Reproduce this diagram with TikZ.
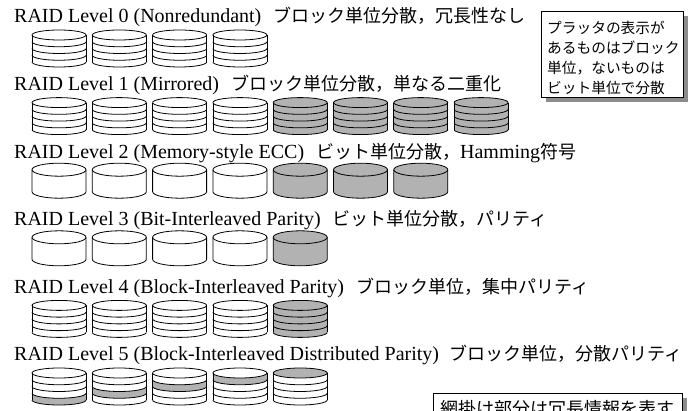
\documentclass[tikz,border=0pt]{standalone}
\usepackage{fontspec}
\setmainfont{Liberation Serif}
\newfontfamily\jp{Noto Sans CJK JP}
\usetikzlibrary{shadows}

\tikzset{
  diskline/.style={line width=0.8pt, line join=round},
  diskgray/.style={fill=black!30},
  rowtitle/.style={anchor=base west, inner sep=0pt, font=\fontsize{20}{24}\selectfont},
  notebox/.style={draw, line width=0.8pt, fill=white, anchor=north west,
    general shadow={fill=black!45, shadow xshift=4.5pt, shadow yshift=-4.5pt}},
}

% stack of platters at top-left (#1,#2); #3 = shaded bands (0 = top face, 1..4 = side bands, -1 = none)
\newcommand\platterstack[3]{%
  \begin{scope}[shift={(#1,#2)}]
    \foreach \k in {#3}{%
      \ifnum\k<0\relax\else
        \ifnum\k=0\relax
          \fill[diskgray] (27,5) ellipse [x radius=27pt, y radius=5pt];
        \else
          \fill[diskgray] (0,{5+(\k-1)*6.75}) arc[start angle=180, end angle=360, x radius=27pt, y radius=5pt]
            -- (54,{5+\k*6.75}) arc[start angle=360, end angle=180, x radius=27pt, y radius=5pt] -- cycle;
        \fi
      \fi}
    \draw[diskline] (27,5) ellipse [x radius=27pt, y radius=5pt];
    \draw[diskline] (0,5) -- (0,32) (54,5) -- (54,32);
    \foreach \k in {1,...,4}
      {\draw[diskline] (0,{5+\k*6.75}) arc[start angle=180, end angle=360, x radius=27pt, y radius=5pt];}
  \end{scope}}

% single cylinder at top-left (#1,#2) filled with #3
\newcommand\cylinder[3]{%
  \begin{scope}[shift={(#1,#2)}]
    \draw[diskline, fill=#3] (0,6.5) -- (0,28.5)
      arc[start angle=180, end angle=360, x radius=27pt, y radius=6.5pt] -- (54,6.5)
      arc[start angle=0, end angle=180, x radius=27pt, y radius=6.5pt] -- cycle;
    \draw[diskline] (0,6.5) arc[start angle=180, end angle=360, x radius=27pt, y radius=6.5pt];
  \end{scope}}

\begin{document}
\begin{tikzpicture}[x=1pt, y=-1pt]
\useasboundingbox (0,0) rectangle (688,411);

\def\jpsize{\jp\fontsize{18}{21}\selectfont}

% titles
\node[rowtitle] (row0) at (14,23) {RAID Level 0 (Nonredundant)\hspace{12pt}{\jpsize ブロック単位分散，冗長性なし}};
\node[rowtitle] (row1) at (14,90.6) {RAID Level 1 (Mirrored)\hspace{12pt}{\jpsize ブロック単位分散，単なる二重化}};
\node[rowtitle] (row2) at (14,158.2) {RAID Level 2 (Memory-style ECC)\hspace{12pt}{\jpsize ビット単位分散，}Hamming{\jpsize 符号}};
\node[rowtitle] (row3) at (14,225.8) {RAID Level 3 (Bit-Interleaved Parity)\hspace{12pt}{\jpsize ビット単位分散，パリティ}};
\node[rowtitle] (row4) at (14,293.4) {RAID Level 4 (Block-Interleaved Parity)\hspace{12pt}{\jpsize ブロック単位，集中パリティ}};
\node[rowtitle] (row5) at (14,361) {RAID Level 5 (Block-Interleaved Distributed Parity)\hspace{10pt}{\jpsize ブロック単位，分散パリティ}};

% level 0
\foreach \i in {0,...,3} {\platterstack{32+60.3*\i}{30}{-1}}
% level 1
\foreach \i in {0,...,3} {\platterstack{32+60.3*\i}{97.6}{-1}}
\foreach \i in {4,...,7} {\platterstack{32+60.3*\i}{97.6}{0,1,2,3,4}}
% level 2
\foreach \i in {0,...,3} {\cylinder{32+60.3*\i}{163.2}{white}}
\foreach \i in {4,...,6} {\cylinder{32+60.3*\i}{163.2}{black!30}}
% level 3
\foreach \i in {0,...,3} {\cylinder{32+60.3*\i}{230.8}{white}}
\cylinder{32+60.3*4}{230.8}{black!30}
% level 4
\foreach \i in {0,...,3} {\platterstack{32+60.3*\i}{300.4}{-1}}
\platterstack{32+60.3*4}{300.4}{0,1,2,3,4}
% level 5: parity band rotates across the disks
\foreach \i/\b in {0/4,1/3,2/2,3/1,4/0} {\platterstack{32+60.3*\i}{368}{\b}}

% legend box, upper right
\node[notebox, minimum width=142pt, minimum height=86pt, inner sep=0pt] (legend) at (541,11) {};
\node[anchor=north west, inner sep=0pt, align=left, text width=136pt,
  font=\jp\fontsize{14.7}{20}\selectfont] (legendtext) at (547,21)
  {プラッタの表示が\\あるものはブロック\\単位，ないものは\\ビット単位で分散};
% shading note, lower right
\node[notebox, minimum width=249pt, minimum height=30pt, inner xsep=6pt, align=left,
  font=\jp\fontsize{18}{22}\selectfont] (shade) at (433,393)
  {網掛け部分は冗長情報を表す};
\end{tikzpicture}
\end{document}
